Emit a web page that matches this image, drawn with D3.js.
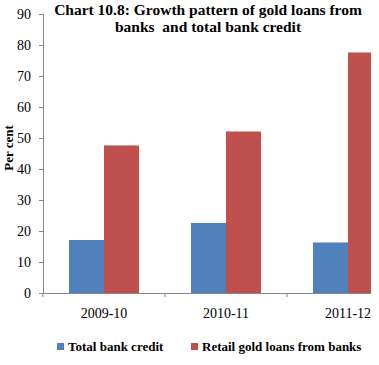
<!DOCTYPE html>
<html><head><meta charset="utf-8">
<script src="https://cdn.jsdelivr.net/npm/d3@7"></script>
<style>body{margin:0;background:#fff}svg{display:block}svg text{font-family:"Liberation Serif","Times New Roman",serif !important}</style>
</head><body>
<script>
const categories = ["2009-10", "2010-11", "2011-12"];
const seriesNames = ["Total bank credit", "Retail gold loans from banks"];
const totalBankCredit = [17.1, 22.6, 16.3];
const retailGoldLoans = [47.6, 52.1, 77.6];
const yTicks = [0, 10, 20, 30, 40, 50, 60, 70, 80, 90];
const colors = ["#4F81BD", "#C0504D"];
const titleLines = ["Chart 10.8: Growth pattern of gold loans from", "banks  and total bank credit"];

const W = 379, H = 365;
const svg = d3.select("body").append("svg").attr("width", W).attr("height", H);

const left = 43, bandW = 122, clipX = 371;
const x = d3.scaleBand().domain(categories).range([left, left + bandW * categories.length]).paddingInner(0).paddingOuter(0);
const y = d3.scaleLinear().domain([0, 90]).range([293, 14]);
const barW = 35;
const serif = '"Liberation Serif", "Times New Roman", serif';

svg.append("defs").append("clipPath").attr("id", "clip")
  .append("rect").attr("x", 0).attr("y", 0).attr("width", clipX).attr("height", H);

// title
svg.selectAll("text.title").data(titleLines).enter().append("text")
  .attr("class", "title").attr("x", 208).attr("y", (d, i) => 15 + i * 17)
  .attr("text-anchor", "middle").attr("font-weight", "bold").attr("font-size", 15.5)
  .style("white-space", "pre")
  .text(d => d);

const g = svg.append("g").attr("clip-path", "url(#clip)");

const data = [totalBankCredit, retailGoldLoans];
data.forEach((vals, si) => {
  g.selectAll("rect.s" + si).data(vals).enter().append("rect")
    .attr("class", "s" + si)
    .attr("x", (d, i) => x(categories[i]) + bandW / 2 - barW + si * barW)
    .attr("y", d => y(d))
    .attr("width", barW)
    .attr("height", d => y(0) - y(d))
    .attr("fill", colors[si]);
});

// y axis
const yAxis = d3.axisLeft(y).tickValues(yTicks).tickSize(4).tickPadding(8);
const ya = svg.append("g").attr("transform", `translate(${left},0)`).call(yAxis)
  .attr("font-family", serif).attr("font-size", 14);
ya.select(".domain").attr("stroke", "#868686");
ya.selectAll(".tick line").attr("stroke", "#868686");
ya.selectAll(".tick text").style("font-family", serif).style("font-size", "14px").attr("fill", "#000");

// x axis
const xa = g.append("g").attr("transform", `translate(0,${y(0)})`)
  .call(d3.axisBottom(x).tickSize(0).tickPadding(15))
  .attr("font-family", serif).attr("font-size", 14);
xa.select(".domain").attr("stroke", "#868686");
xa.selectAll(".tick text").style("font-family", serif).style("font-size", "14px").attr("fill", "#000");
// category boundary ticks
const bounds = categories.map(c => x(c));
g.selectAll("line.bt").data(bounds).enter().append("line")
  .attr("x1", d => d).attr("x2", d => d)
  .attr("y1", y(0)).attr("y2", y(0) + 4).attr("stroke", "#868686");

// y title
svg.append("text").attr("transform", "translate(13,148) rotate(-90)")
  .attr("text-anchor", "middle").attr("font-weight", "bold").attr("font-size", 13)
  .text("Per cent");

// legend
const legX = [57, 191];
seriesNames.forEach((n, i) => {
  svg.append("rect").attr("x", legX[i]).attr("y", 343).attr("width", 7).attr("height", 7).attr("fill", colors[i]);
  svg.append("text").attr("x", legX[i] + 11).attr("y", 351)
    .attr("font-weight", "bold").attr("font-size", 13).text(n);
});
</script>
</body></html>
